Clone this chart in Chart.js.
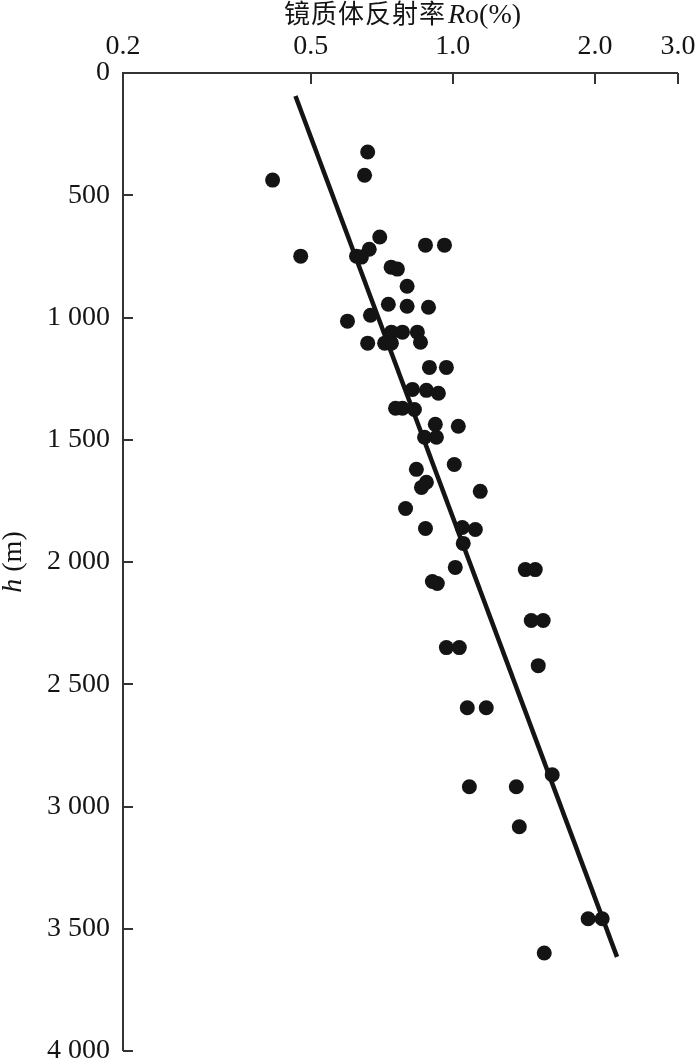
<!DOCTYPE html>
<html>
<head>
<meta charset="utf-8">
<script src="https://cdn.jsdelivr.net/npm/chart.js@4.4.0/dist/chart.umd.min.js"></script>
<style>
    html, body { margin: 0; padding: 0; background: #fff; }
    #wrap { width: 700px; height: 1061px; }
</style>
</head>
<body>
<div id="wrap"><canvas id="roChart" width="700" height="1061"></canvas></div>
<script>
// Ro (%) по глубине h (m)
const sampleRo = [
    0.66, 0.65, 0.415, 0.70, 0.875, 0.96, 0.665, 0.476, 0.625, 0.64,
    0.74, 0.763, 0.80, 0.73, 0.80, 0.888, 0.598, 0.669, 0.741, 0.782,
    0.841, 0.854, 0.66, 0.717, 0.741, 0.892, 0.969, 0.821, 0.879, 0.932,
    0.756, 0.782, 0.829, 0.918, 1.027, 0.871, 0.923, 1.007, 0.837, 0.858,
    0.879, 1.143, 0.794, 0.875, 1.047, 1.116, 1.052, 1.012, 0.905, 0.927,
    1.424, 1.495, 1.466, 1.554, 1.517, 0.969, 1.032, 1.073, 1.177, 1.624,
    1.084, 1.363, 1.383, 1.935, 2.072, 1.562
];
const sampleDepth = [
    323, 418, 438, 671, 704, 704, 721, 749, 749, 753,
    794, 802, 872, 946, 954, 958, 1015, 991, 1060, 1060,
    1060, 1101, 1105, 1105, 1105, 1204, 1204, 1294, 1298, 1310,
    1371, 1371, 1376, 1437, 1445, 1490, 1490, 1601, 1621, 1695,
    1674, 1711, 1781, 1863, 1859, 1867, 1924, 2022, 2080, 2088,
    2031, 2031, 2239, 2239, 2424, 2350, 2350, 2596, 2596, 2870,
    2919, 2919, 3083, 3459, 3459, 3599
];

// линия тренда
const fitRo = [0.464, 2.228];
const fitDepth = [94, 3615];

// подписи осей
const roTicks = [0.2, 0.5, 1.0, 2.0, 3.0];
const depthTicks = [0, 500, 1000, 1500, 2000, 2500, 3000, 3500, 4000];

const ink = '#141414';
const axisColor = '#333';
const serif = '"Liberation Serif", "Times New Roman", serif';

/*оси, засечки и заголовки*/
const axesFrame = {
    id: 'axesFrame',
    afterDraw(chart) {
        const {ctx, chartArea: a, scales: {x, y}} = chart;
        ctx.save();
        ctx.strokeStyle = axisColor;
        ctx.lineWidth = 2;
        ctx.beginPath();
        ctx.moveTo(a.left, a.bottom);
        ctx.lineTo(a.left, a.top);
        ctx.lineTo(a.right, a.top);
        roTicks.slice(1).forEach(v => {
            const px = Math.round(x.getPixelForValue(v));
            ctx.moveTo(px, a.top);
            ctx.lineTo(px, a.top + 11);
        });
        depthTicks.slice(1).forEach(v => {
            const py = Math.round(y.getPixelForValue(v));
            ctx.moveTo(a.left, py);
            ctx.lineTo(a.left + 10, py);
        });
        ctx.stroke();

        // заголовок оси X
        ctx.fillStyle = ink;
        ctx.textBaseline = 'alphabetic';
        const cjk = '镜质体反射率';
        const pitch = 27;
        const cjkFont = '26px "Noto Sans CJK SC"';
        const rFont = 'italic 28px ' + serif;
        const restFont = '28px ' + serif;
        ctx.font = rFont;
        const wR = ctx.measureText('R').width;
        ctx.font = restFont;
        const wRest = ctx.measureText('o(%)').width;
        const total = cjk.length * pitch + 2 + wR + wRest;
        let tx = (a.left + a.right) / 2 + 2 - total / 2;
        const ty = 23;
        ctx.font = cjkFont;
        ctx.textAlign = 'left';
        for (const ch of cjk) {
            ctx.fillText(ch, tx, ty);
            tx += pitch;
        }
        tx += 2;
        ctx.font = rFont;
        ctx.fillText('R', tx, ty);
        tx += wR;
        ctx.font = restFont;
        ctx.fillText('o(%)', tx, ty);

        // заголовок оси Y
        ctx.translate(21, (a.top + a.bottom) / 2);
        ctx.rotate(-Math.PI / 2);
        ctx.font = 'italic 28px ' + serif;
        const wh = ctx.measureText('h').width;
        ctx.font = '28px ' + serif;
        const wm = ctx.measureText(' (m)').width;
        let hx = -(wh + wm) / 2;
        ctx.font = 'italic 28px ' + serif;
        ctx.fillText('h', hx, 0);
        ctx.font = '28px ' + serif;
        ctx.fillText(' (m)', hx + wh, 0);
        ctx.restore();
    }
};

const ctx = document.getElementById('roChart').getContext('2d');

const roChart = new Chart(ctx, {
    type: 'scatter',
    data: {
        datasets: [
            {
                label: 'samples',
                data: sampleRo.map((v, i) => ({x: v, y: sampleDepth[i]})),
                backgroundColor: ink,
                borderWidth: 0,
                pointRadius: 7.5,
                pointHoverRadius: 7.5
            },
            {
                label: 'fit',
                data: fitRo.map((v, i) => ({x: v, y: fitDepth[i]})),
                showLine: true,
                borderColor: ink,
                borderWidth: 4.5,
                pointRadius: 0,
                fill: false
            }
        ]
    },
    options: {
        responsive: false,
        animation: false,
        layout: {padding: {top: 0, left: 0, right: 22, bottom: 10}},
        plugins: {
            legend: {display: false},
            tooltip: {enabled: false}
        },
        scales: {
            x: {
                type: 'logarithmic',
                position: 'top',
                min: 0.2,
                max: 3.0,
                afterBuildTicks: s => { s.ticks = roTicks.map(v => ({value: v})); },
                afterFit: s => { s.height = 73; s.paddingLeft = 0; s.paddingRight = 0; },
                grid: {display: false, drawTicks: false},
                border: {display: false},
                ticks: {
                    autoSkip: false,
                    maxRotation: 0,
                    padding: 10,
                    color: ink,
                    font: {family: serif, size: 28},
                    callback: v => Number(v).toFixed(1)
                }
            },
            y: {
                type: 'linear',
                reverse: true,
                min: 0,
                max: 4000,
                afterBuildTicks: s => { s.ticks = depthTicks.map(v => ({value: v})); },
                afterFit: s => { s.width = 123; s.paddingTop = 0; s.paddingBottom = 0; },
                grid: {display: false, drawTicks: false},
                border: {display: false},
                ticks: {
                    autoSkip: false,
                    padding: 13,
                    color: ink,
                    font: {family: serif, size: 28},
                    callback: v => v >= 1000 ? Math.floor(v / 1000) + ' ' + String(v % 1000).padStart(3, '0') : String(v)
                }
            }
        }
    },
    plugins: [axesFrame]
});
</script>
</body>
</html>
